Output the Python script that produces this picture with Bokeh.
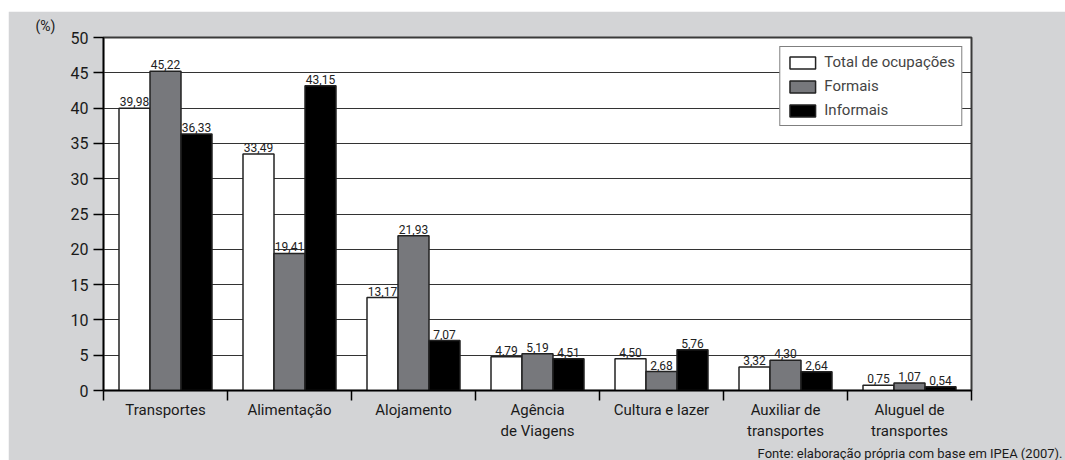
from bokeh.plotting import figure
from bokeh.models import ColumnDataSource, Range1d, FixedTicker, Legend, LegendItem, Title
from bokeh.transform import dodge
from bokeh.core.properties import value
from bokeh.embed import file_html
from bokeh.resources import INLINE

categories = ["Transportes", "Alimentação", "Alojamento", "Agência\nde Viagens",
              "Cultura e lazer", "Auxiliar de\ntransportes", "Aluguel de\ntransportes"]
total = [39.98, 33.49, 13.17, 4.79, 4.50, 3.32, 0.75]
formais = [45.22, 19.41, 21.93, 5.19, 2.68, 4.30, 1.07]
informais = [36.33, 43.15, 7.07, 4.51, 5.76, 2.64, 0.54]
series_names = ["Total de ocupações", "Formais", "Informais"]
y_ticks = [0, 5, 10, 15, 20, 25, 30, 35, 40, 45, 50]
y_unit = "(%)"
source_note = "Fonte: elaboração própria com base em IPEA (2007)."

FONT = "Roboto"
BG = "#d3d4d6"
colors = ["white", "#77787c", "black"]
offsets = [-0.25, 0.0, 0.25]

centers = [i + 0.5 for i in range(len(categories))]

p = figure(width=1057, height=449, x_range=Range1d(0, len(categories)), y_range=Range1d(0, 50),
           output_backend="svg", toolbar_location=None,
           min_border_left=95, min_border_right=94, min_border_top=26, min_border_bottom=70,
           background_fill_color="white", border_fill_color=BG, margin=(11, 0, 0, 8))
p.outline_line_color = "#3a3a3a"
p.outline_line_width = 2

items = []
for name, vals, col, off in zip(series_names, [total, formais, informais], colors, offsets):
    src = ColumnDataSource(dict(x=centers, v=vals,
                                lbl=[f"{v:.2f}".replace(".", ",") for v in vals]))
    r = p.vbar(x=dodge("x", off, range=p.x_range), top="v", bottom=0, width=0.25, source=src,
               fill_color=col, line_color="#222222", line_width=1.5)
    p.text(x=dodge("x", off, range=p.x_range), y="v", text="lbl", source=src,
           text_align="center", text_baseline="bottom", y_offset=-2,
           text_font=value(FONT), text_font_size="12px", text_color="#222222")
    items.append(LegendItem(label=name, renderers=[r]))

legend = Legend(items=items, location="top_right", margin=9, padding=6, spacing=6,
                glyph_width=32, glyph_height=15, label_text_font=FONT,
                label_text_font_size="15px", label_standoff=6,
                border_line_color="black", border_line_width=1,
                background_fill_color="white", background_fill_alpha=1.0)
p.add_layout(legend)

# axes
xa = p.xaxis[0]
xa.ticker = FixedTicker(ticks=centers, minor_ticks=list(range(len(categories) + 1)))
xa.major_label_overrides = {c: lab for c, lab in zip(centers, categories)}
xa.major_tick_out = 0
xa.major_tick_in = 0
xa.minor_tick_out = 10
xa.minor_tick_in = 0
xa.minor_tick_line_color = "black"
xa.minor_tick_line_width = 1.5
xa.axis_line_color = "black"
xa.axis_line_width = 1.5
xa.major_label_standoff = 0
xa.major_label_text_font = FONT
xa.major_label_text_font_size = "15px"
xa.major_label_text_color = "#1a1a1a"

ya = p.yaxis[0]
ya.ticker = FixedTicker(ticks=y_ticks, minor_ticks=[])
ya.major_tick_out = 10
ya.major_tick_in = 0
ya.major_tick_line_color = "black"
ya.major_tick_line_width = 1.5
ya.axis_line_color = "black"
ya.axis_line_width = 1.5
ya.major_label_standoff = 5
ya.major_label_text_font = FONT
ya.major_label_text_font_size = "16px"
ya.major_label_text_color = "#1a1a1a"

p.xgrid.visible = False
p.ygrid.ticker = FixedTicker(ticks=y_ticks)
p.ygrid.grid_line_color = "#333333"
p.ygrid.grid_line_width = 1

p.add_layout(Title(text=y_unit, align="left", offset=-68, text_font=FONT,
                   text_font_size="14px", text_font_style="normal", text_color="#1a1a1a",
                   standoff=8), "above")
p.add_layout(Title(text=source_note, align="right", offset=-91, text_font=FONT,
                   text_font_size="13px", text_font_style="normal", text_color="#1a1a1a",
                   standoff=0), "below")

open("out.html", "w").write(file_html(p, INLINE))
